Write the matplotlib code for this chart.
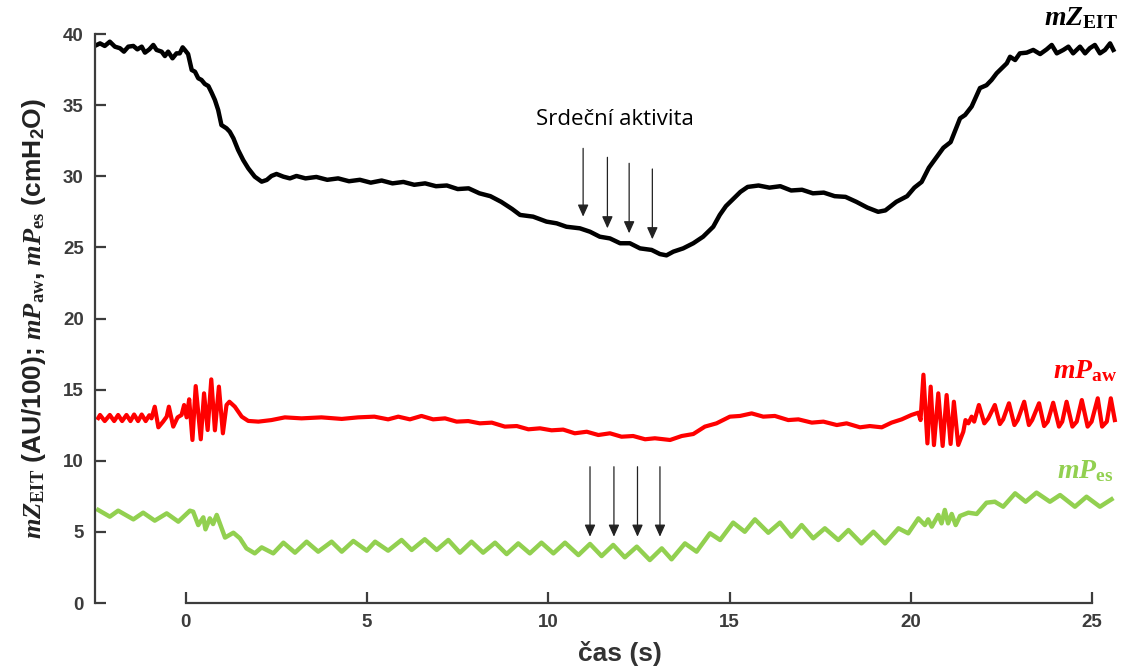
import matplotlib
matplotlib.use("Agg")
import matplotlib.pyplot as plt

# mZ_EIT (impedance / 100)
t_eit = [-2.46, -2.37, -2.24, -2.10, -1.96, -1.82, -1.71, -1.59, -1.45, -1.34,
         -1.22, -1.13, -1.01, -0.90, -0.81, -0.67, -0.58, -0.49, -0.37, -0.26,
         -0.17, -0.09, -0.03, 0.06, 0.16, 0.25, 0.34, 0.43, 0.52, 0.62,
         0.71, 0.80, 0.89, 0.98, 1.12, 1.21, 1.31, 1.44, 1.58, 1.72,
         1.90, 2.09, 2.23, 2.36, 2.50, 2.69, 2.87, 3.05, 3.30, 3.60,
         3.90, 4.20, 4.50, 4.80, 5.10, 5.40, 5.70, 6.00, 6.30, 6.60,
         6.90, 7.20, 7.50, 7.80, 8.10, 8.40, 8.70, 9.00, 9.22, 9.58,
         9.95, 10.23, 10.50, 10.87, 11.15, 11.42, 11.70, 11.98, 12.25, 12.53,
         12.85, 13.08, 13.26, 13.45, 13.72, 14.00, 14.27, 14.55, 14.73, 14.90,
         15.10, 15.30, 15.50, 15.80, 16.10, 16.40, 16.70, 17.00, 17.30, 17.60,
         17.90, 18.20, 18.50, 18.80, 19.10, 19.30, 19.60, 19.90, 20.10, 20.30,
         20.50, 20.70, 20.90, 21.10, 21.36, 21.50, 21.68, 21.91, 22.09, 22.23,
         22.37, 22.51, 22.65, 22.74, 22.88, 23.01, 23.20, 23.38, 23.57, 23.75,
         23.89, 24.03, 24.21, 24.35, 24.48, 24.67, 24.81, 24.94, 25.08, 25.22,
         25.36, 25.50, 25.59]
mz_eit = [39.23, 39.34, 39.16, 39.46, 39.11, 39.00, 38.76, 39.11, 39.16, 38.92,
          39.11, 38.69, 38.92, 39.23, 38.88, 38.76, 38.45, 38.76, 38.29, 38.64,
          38.64, 39.06, 38.88, 38.59, 37.47, 37.35, 36.89, 36.77, 36.49, 36.34,
          35.87, 35.36, 34.66, 33.60, 33.37, 33.13, 32.67, 31.85, 31.14, 30.56,
          29.97, 29.62, 29.74, 30.02, 30.16, 29.97, 29.85, 30.02, 29.85, 29.95,
          29.75, 29.85, 29.65, 29.75, 29.55, 29.70, 29.50, 29.60, 29.40, 29.50,
          29.30, 29.35, 29.10, 29.15, 28.80, 28.60, 28.20, 27.70, 27.28, 27.16,
          26.81, 26.69, 26.45, 26.34, 26.10, 25.75, 25.63, 25.29, 25.29, 24.93,
          24.82, 24.53, 24.44, 24.70, 24.93, 25.29, 25.75, 26.45, 27.28, 27.90,
          28.40, 28.90, 29.25, 29.35, 29.20, 29.30, 29.00, 29.05, 28.80, 28.85,
          28.60, 28.55, 28.20, 27.80, 27.50, 27.60, 28.20, 28.60, 29.20, 29.60,
          30.60, 31.30, 32.00, 32.40, 34.07, 34.31, 34.90, 36.20, 36.40, 36.77,
          37.24, 37.59, 37.94, 38.40, 38.17, 38.64, 38.69, 38.88, 38.59, 38.92,
          39.23, 38.64, 38.88, 39.11, 38.64, 39.11, 38.64, 39.00, 39.23, 38.64,
          38.88, 39.34, 38.88]

# mP_aw (airway pressure)
t_aw = [-2.42, -2.37, -2.24, -2.10, -1.98, -1.87, -1.76, -1.64, -1.53, -1.43,
        -1.32, -1.22, -1.11, -1.01, -0.95,
        -0.86, -0.76, -0.63, -0.53, -0.47, -0.35, -0.23, -0.12, -0.05, 0.02,
        0.09, 0.18, 0.27, 0.41, 0.50, 0.60, 0.70, 0.80, 0.91, 1.02,
        1.12, 1.20, 1.35, 1.54, 1.72,
        2.00, 2.36, 2.73, 3.19, 3.74, 4.30, 4.75, 5.20, 5.58, 5.86,
        6.18, 6.50, 6.82, 7.15, 7.47, 7.79, 8.11, 8.44, 8.80, 9.13,
        9.45, 9.77, 10.09, 10.41, 10.73, 11.06, 11.38, 11.70, 12.02, 12.34,
        12.67, 12.94, 13.36, 13.68, 14.00, 14.32, 14.64, 15.01, 15.29, 15.61,
        15.93, 16.25, 16.62, 16.90, 17.27, 17.59, 17.96, 18.23, 18.60, 18.87,
        19.20, 19.47, 19.75, 20.02, 20.21,
        20.27, 20.35, 20.46, 20.55, 20.64, 20.76, 20.88, 20.99, 21.10, 21.19,
        21.31, 21.45, 21.51, 21.59, 21.68, 21.75,
        21.88, 22.03, 22.14, 22.32, 22.46, 22.55, 22.71, 22.86, 22.95, 23.13,
        23.26, 23.35, 23.54, 23.68, 23.78, 23.93, 24.09, 24.18, 24.30, 24.46,
        24.58, 24.72, 24.88, 24.99, 25.16, 25.28, 25.41, 25.52, 25.63]
mp_aw = [13.00, 13.22, 12.79, 13.22, 12.79, 13.22, 12.79, 13.22, 12.79, 13.25,
         12.79, 13.25, 12.79, 13.20, 12.98,
         13.80, 12.35, 12.75, 13.10, 13.80, 12.40, 13.05, 13.22, 13.92, 13.05,
         14.32, 11.46, 15.25, 11.51, 14.74, 12.16, 15.72, 12.14, 15.21, 11.93,
         13.92, 14.15, 13.80, 13.10, 12.80,
         12.75, 12.86, 13.05, 12.98, 13.05, 12.94, 13.05, 13.10, 12.91, 13.10,
         12.91, 13.15, 12.91, 12.98, 12.75, 12.79, 12.63, 12.68, 12.40, 12.44,
         12.21, 12.28, 12.14, 12.19, 11.93, 12.04, 11.81, 11.93, 11.69, 11.74,
         11.51, 11.58, 11.46, 11.74, 11.88, 12.40, 12.63, 13.10, 13.15, 13.33,
         13.10, 13.15, 12.86, 12.91, 12.68, 12.75, 12.51, 12.63, 12.35, 12.44,
         12.35, 12.68, 12.91, 13.22, 13.38,
         12.86, 16.05, 11.22, 15.21, 11.10, 14.74, 11.04, 14.62, 11.18, 14.15,
         11.11, 12.04, 12.86, 12.63, 13.10, 12.75,
         13.92, 12.63, 12.98, 13.92, 12.58, 12.91, 14.04, 12.51, 12.86, 14.15,
         12.51, 12.86, 14.04, 12.44, 12.75, 14.08, 12.40, 12.75, 14.15, 12.40,
         12.75, 14.27, 12.40, 12.75, 14.39, 12.40, 12.75, 14.39, 12.86]

# mP_es (esophageal pressure)
t_es = [-2.42, -2.10, -1.87, -1.45, -1.18, -0.86, -0.53, -0.21, 0.11, 0.20,
        0.34, 0.48, 0.54, 0.66, 0.75, 0.85, 1.08, 1.31, 1.49, 1.67,
        1.90, 2.09, 2.41, 2.69, 3.01, 3.33, 3.65, 4.02, 4.30, 4.62,
        4.99, 5.22, 5.58, 5.95, 6.23, 6.59, 6.92, 7.24, 7.56, 7.88,
        8.20, 8.53, 8.85, 9.17, 9.49, 9.81, 10.14, 10.46, 10.83, 11.15,
        11.47, 11.79, 12.11, 12.44, 12.80, 13.13, 13.40, 13.77, 14.09, 14.46,
        14.74, 15.10, 15.42, 15.70, 16.07, 16.39, 16.71, 16.99, 17.31, 17.63,
        18.00, 18.28, 18.64, 18.97, 19.29, 19.66, 19.93, 20.21, 20.39, 20.48,
        20.58, 20.76, 20.85, 20.94, 21.03, 21.13, 21.24, 21.36, 21.59, 21.82,
        22.09, 22.32, 22.55, 22.88, 23.17, 23.47, 23.84, 24.12, 24.53, 24.85,
        25.22, 25.54]
mp_es = [6.54, 6.07, 6.49, 5.88, 6.35, 5.79, 6.30, 5.72, 6.49, 6.42,
         5.48, 6.02, 5.18, 5.95, 5.55, 6.19, 4.60, 4.94, 4.55, 3.84,
         3.49, 3.91, 3.49, 4.24, 3.54, 4.31, 3.61, 4.31, 3.61, 4.36,
         3.68, 4.31, 3.68, 4.43, 3.73, 4.48, 3.73, 4.43, 3.54, 4.31,
         3.54, 4.24, 3.44, 4.19, 3.49, 4.24, 3.49, 4.24, 3.37, 4.15,
         3.30, 4.08, 3.21, 3.96, 3.02, 3.84, 3.07, 4.19, 3.61, 4.90,
         4.43, 5.65, 5.01, 5.88, 4.94, 5.65, 4.66, 5.48, 4.55, 5.25,
         4.43, 5.13, 4.19, 5.01, 4.19, 5.25, 4.90, 5.95, 5.48, 5.88,
         5.37, 6.19, 5.60, 6.54, 5.60, 6.26, 5.48, 6.12, 6.35, 6.26,
         7.05, 7.12, 6.77, 7.71, 7.12, 7.76, 7.12, 7.59, 6.77, 7.47,
         6.77, 7.29]

# cardiac activity arrows (time, shaft top, tip)
upper_arrow_t = [10.96, 11.63, 12.23, 12.87]
upper_arrow_top = [31.96, 31.33, 30.91, 30.51]
upper_arrow_tip = [27.16, 26.34, 25.99, 25.57]
lower_arrow_t = [11.15, 11.81, 12.46, 13.08]
lower_arrow_top = [9.58, 9.58, 9.58, 9.58]
lower_arrow_tip = [4.66, 4.66, 4.66, 4.66]

x_ticks = [0, 5, 10, 15, 20, 25]
y_ticks = [0, 5, 10, 15, 20, 25, 30, 35, 40]

RED = "#ff0000"
GREEN = "#92d050"
AXIS = "#3c3c3c"

plt.rcParams["mathtext.fontset"] = "custom"
plt.rcParams["mathtext.it"] = "Liberation Serif:italic:bold"
plt.rcParams["mathtext.bf"] = "Liberation Serif:bold"
plt.rcParams["mathtext.rm"] = "Liberation Sans:bold"

fig = plt.figure(figsize=(11.25, 6.68), dpi=100)
ax = fig.add_axes([0.0844, 0.0973, 0.912, 0.8518])

ax.plot(t_eit, mz_eit, color="black", lw=3.2, solid_joinstyle="round")
ax.plot(t_aw, mp_aw, color=RED, lw=3.0, solid_joinstyle="round")
ax.plot(t_es, mp_es, color=GREEN, lw=3.2, solid_joinstyle="round")

ax.set_xlim(-2.51, 25.8)
ax.set_ylim(0, 40)

for s in ["top", "right"]:
    ax.spines[s].set_visible(False)
ax.spines["left"].set_bounds(0, 40)
ax.spines["bottom"].set_bounds(0, 25)
for s in ["left", "bottom"]:
    ax.spines[s].set_color(AXIS)
    ax.spines[s].set_linewidth(1.6)

ax.set_xticks(x_ticks)
ax.set_yticks(y_ticks)
ax.tick_params(direction="in", length=8, width=1.6, color=AXIS,
               labelsize=13.5, labelcolor=AXIS, pad=8)
for lab in ax.get_xticklabels() + ax.get_yticklabels():
    lab.set_fontfamily("Liberation Sans")
    lab.set_fontweight("bold")

ax.set_ylabel(r"$\mathit{mZ}_{\mathbf{EIT}}$ (AU/100); $\mathit{mP}_{\mathbf{aw}}$, "
              r"$\mathit{mP}_{\mathbf{es}}$ (cmH$_2$O)",
              fontsize=19, fontweight="bold", family="Liberation Sans", color="#222222")
ax.yaxis.set_label_coords(-0.046, 0.5)
ax.text(0.512, -0.088, "čas (s)", transform=ax.transAxes, ha="center", va="center",
        fontsize=19, fontweight="bold", family="Liberation Sans", color="#333333")

# series labels
ax.text(25.72, 41.2, r"$\mathit{mZ}_{\mathbf{EIT}}$", ha="right", va="center",
        fontsize=20, color="black", clip_on=False)
ax.text(25.69, 16.4, r"$\mathit{mP}_{\mathbf{aw}}$", ha="right", va="center",
        fontsize=20, color=RED, clip_on=False)
ax.text(25.58, 9.35, r"$\mathit{mP}_{\mathbf{es}}$", ha="right", va="center",
        fontsize=20, color=GREEN, clip_on=False)

ax.text(11.84, 33.96, "Srdeční aktivita", ha="center", va="center",
        fontsize=16, family="Open Sans", color="black")

arrow_style = "-|>,head_length=0.6,head_width=0.27"
for t, y0, y1 in zip(upper_arrow_t, upper_arrow_top, upper_arrow_tip):
    ax.annotate("", xy=(t, y1), xytext=(t, y0),
                arrowprops=dict(arrowstyle=arrow_style, color="#222222", lw=0.9,
                                shrinkA=0, shrinkB=0, mutation_scale=12))
for t, y0, y1 in zip(lower_arrow_t, lower_arrow_top, lower_arrow_tip):
    ax.annotate("", xy=(t, y1), xytext=(t, y0),
                arrowprops=dict(arrowstyle=arrow_style, color="#222222", lw=0.9,
                                shrinkA=0, shrinkB=0, mutation_scale=12))

fig.savefig("out.png", dpi=100)
